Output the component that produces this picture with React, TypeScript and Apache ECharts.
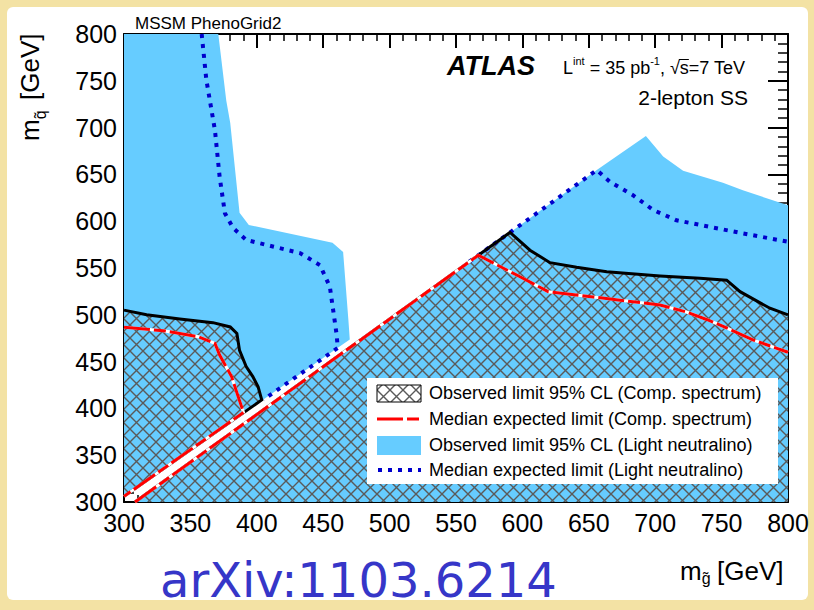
import React, { useEffect, useRef } from "react";
import * as echarts from "echarts";

// ---------- data (GeV) ----------
const X_RANGE = [300, 800];
const Y_RANGE = [300, 800];
const TICK_STEP = 50;

// Observed limit 95% CL (Light neutralino) – filled regions
const lightObsLeft: [number, number][] = [
  [300, 800], [371, 800], [377, 729], [380, 705], [387, 609], [394, 596],
  [457, 577], [465, 567], [469, 494], [470, 473.5], [300, 306],
];
const lightObsRight: [number, number][] = [
  [308.3, 300], [656, 654.6], [693, 691], [706, 669], [721, 654], [751, 641],
  [766, 633], [800, 617], [800, 300],
];
// Observed limit 95% CL (Comp. spectrum) – contour (hatched below)
const compObsLeft: [number, number][] = [
  [300, 505], [317, 500], [342, 495.5], [367, 491.6], [380, 487], [385, 480],
  [387, 462], [392, 444.6], [397, 434], [401, 423], [403.7, 409], [300, 306],
];
const compObsRight: [number, number][] = [
  [308.3, 300], [590.7, 588], [605.7, 569], [620.8, 555.7], [640.8, 550.7],
  [663.5, 546], [703.6, 541.5], [733.7, 539], [753.8, 537], [763.9, 524.7],
  [786.4, 507], [800, 500],
];
// Median expected limit (Comp. spectrum)
const compExpLeft: [number, number][] = [
  [300, 486.6], [329.6, 483], [356, 476.6], [368.5, 469.5], [372, 457],
  [381, 434], [386, 412.5], [390, 395.7], [300, 306],
];
const compExpRight: [number, number][] = [
  [308.3, 300], [566.8, 563.6], [595.7, 542.5], [619.5, 524.7], [653.4, 519],
  [703.6, 510.5], [723.6, 503], [738.7, 495], [749, 489], [774, 473], [800, 460],
];
// Median expected limit (Light neutralino)
const lightExpLeft: [number, number][] = [
  [358.5, 800], [362, 751], [368.5, 697], [372, 647.5], [376, 608.5], [382, 593],
  [392, 580], [412, 573], [432.5, 566], [447.6, 553], [455, 530], [458, 500],
  [460, 480], [461, 464.6], [405, 409.4],
];
const lightExpRight: [number, number][] = [
  [560, 556.7], [656, 654.6], [666, 642], [683, 628], [698.5, 612], [716, 601],
  [741, 594], [766, 587], [800, 578],
];

const legendLabels = [
  "Observed limit 95% CL (Comp. spectrum)",
  "Median expected limit (Comp. spectrum)",
  "Observed limit 95% CL (Light neutralino)",
  "Median expected limit (Light neutralino)",
];

// ---------- styles ----------
const FONT = "'Liberation Sans', Arial, Helvetica, sans-serif";
const BLUE = "#66ccff";
const RED = "#ff0000";
const DOT_BLUE = "#0000cc";
const RED_DASH = [26, 4, 12, 4];
const DOT_DASH = [4, 6];
const HATCH = 13;

const hatchSvg =
  `<svg xmlns='http://www.w3.org/2000/svg' width='${HATCH}' height='${HATCH}'>` +
  `<path d='M0 0L${HATCH} ${HATCH}M${HATCH} 0L0 ${HATCH}' stroke='#5a5a5a' stroke-width='1.4' fill='none'/></svg>`;
const hatchFill: any = {
  image: "data:image/svg+xml;charset=utf-8," + encodeURIComponent(hatchSvg),
  repeat: "repeat",
  imageWidth: HATCH,
  imageHeight: HATCH,
};

function measure(text: string, size: number, weight = "normal", style = "normal", family = FONT) {
  const ctx = document.createElement("canvas").getContext("2d")!;
  ctx.font = `${style} ${weight} ${size}px ${family}`;
  return ctx.measureText(text).width;
}

function polySeries(name: string, pts: [number, number][], fill: any, z: number) {
  return {
    type: "custom",
    name,
    coordinateSystem: "cartesian2d",
    xAxisIndex: 0,
    yAxisIndex: 0,
    data: [[pts[0][0], pts[0][1]]],
    z,
    silent: true,
    clip: true,
    renderItem: (_p: any, api: any) => ({
      type: "polygon",
      shape: { points: pts.map((p) => api.coord(p)) },
      style: { fill, stroke: "none" },
    }),
  };
}

function lineSeries(name: string, pts: [number, number][], color: string, width: number, type: any, z: number) {
  return {
    type: "line",
    name,
    data: pts,
    showSymbol: false,
    symbol: "none",
    z,
    silent: true,
    clip: true,
    lineStyle: { color, width, type, cap: "butt", join: "miter" },
  };
}

function txt(text: string, x: number, y: number, size: number, extra: any = {}) {
  return {
    type: "text",
    x,
    y,
    z: 100,
    style: {
      text,
      fontSize: size,
      fontFamily: FONT,
      fill: "#000",
      align: "left",
      verticalAlign: "middle",
      ...extra,
    },
  };
}

function buildGraphics() {
  const g: any[] = [];
  // Header texts
  g.push(txt("MSSM PhenoGrid2", 135, 23, 17));
  g.push(txt("ATLAS", 447, 66, 27, { fontWeight: "bold", fontStyle: "italic" }));
  // Luminosity label with superscripts
  let lx = 563;
  const put = (t: string, size: number, y: number) => {
    g.push(txt(t, lx, y, size));
    const w = measure(t, size);
    lx += w;
    return w;
  };
  put("L", 18, 68);
  put("int", 11, 61);
  put(" = 35 pb", 18, 68);
  put("-1", 11, 61);
  put(", ", 18, 68);
  put("\u221A", 18, 68);
  const sx = lx;
  const sw = put("s", 18, 68);
  put("=7 TeV", 18, 68);
  g.push({
    type: "line",
    z: 100,
    shape: { x1: sx - 1, y1: 59.5, x2: sx + sw, y2: 59.5 },
    style: { stroke: "#000", lineWidth: 1 },
  });
  g.push(txt("2-lepton SS", 748, 97, 21, { align: "right" }));

  // X axis title
  const mw = measure("m", 26);
  g.push(txt("m", 680, 571, 26));
  g.push(txt("g\u0303", 680 + mw, 578, 16));
  g.push(txt("[GeV]", 717, 571, 26));

  // Y axis title (rotated)
  g.push({
    type: "group",
    x: 39,
    y: 141,
    rotation: Math.PI / 2,
    z: 100,
    children: [
      txt("m", 0, -9, 26),
      txt("q\u0303", mw, 1, 16),
      txt("[GeV]", 41, -9, 26),
    ],
  });

  // arXiv label
  g.push(
    txt("arXiv:1103.6214", 160, 580, 48, {
      fontFamily: "'DejaVu Sans', sans-serif",
      fill: "#3636c8",
    })
  );

  // Legend
  const lx0 = 367, ly0 = 378;
  g.push({ type: "rect", z: 100, shape: { x: lx0, y: ly0, width: 411, height: 106 }, style: { fill: "#fff" } });
  const rows = [393, 419, 444.5, 470];
  g.push({ type: "rect", z: 101, shape: { x: 377, y: 385, width: 44, height: 17 }, style: { fill: "#fff", stroke: "none" } });
  g.push({ type: "rect", z: 102, shape: { x: 377, y: 385, width: 44, height: 17 }, style: { fill: hatchFill, stroke: "#000", lineWidth: 1 } });
  g.push({ type: "line", z: 101, shape: { x1: 377, y1: rows[1], x2: 421, y2: rows[1] }, style: { stroke: RED, lineWidth: 3, lineDash: RED_DASH } });
  g.push({ type: "rect", z: 101, shape: { x: 377, y: 436, width: 44, height: 19 }, style: { fill: BLUE } });
  g.push({ type: "line", z: 101, shape: { x1: 378, y1: rows[3], x2: 421, y2: rows[3] }, style: { stroke: DOT_BLUE, lineWidth: 4, lineDash: DOT_DASH } });
  legendLabels.forEach((l, i) => g.push(txt(l, 429, rows[i], 18, { z: 103 })));
  return g;
}

export default function App() {
  const ref = useRef<HTMLDivElement>(null);
  useEffect(() => {
    if (!ref.current) return;
    const chart = echarts.init(ref.current, undefined, { renderer: "svg" });

    const axisCommon = {
      type: "value",
      min: X_RANGE[0],
      max: X_RANGE[1],
      interval: TICK_STEP,
      splitLine: { show: false },
      axisLine: { show: true, lineStyle: { color: "#000", width: 2 } },
    };
    const xTick = { show: true, inside: true, length: 14, lineStyle: { color: "#000", width: 2 } };
    const xMinor = { show: true, splitNumber: 5, length: 7, lineStyle: { color: "#000", width: 1.5 } };
    const yTick = { show: true, inside: true, length: 20, lineStyle: { color: "#000", width: 2 } };
    const yMinor = { show: true, splitNumber: 5, length: 10, lineStyle: { color: "#000", width: 1.5 } };
    const label = { color: "#000", fontSize: 25, fontFamily: FONT };

    const option: any = {
      animation: false,
      backgroundColor: "transparent",
      grid: { left: 124, right: 26, top: 34, bottom: 108, containLabel: false },
      xAxis: [
        { ...axisCommon, position: "bottom", axisTick: xTick, minorTick: xMinor, axisLabel: { ...label, margin: 8 } },
        { ...axisCommon, position: "top", axisTick: xTick, minorTick: xMinor, axisLabel: { show: false } },
      ],
      yAxis: [
        { ...axisCommon, min: Y_RANGE[0], max: Y_RANGE[1], position: "left", axisTick: yTick, minorTick: yMinor, axisLabel: { ...label, margin: 7 } },
        { ...axisCommon, min: Y_RANGE[0], max: Y_RANGE[1], position: "right", axisTick: yTick, minorTick: yMinor, axisLabel: { show: false } },
      ],
      series: [
        polySeries("Observed limit 95% CL (Light neutralino)", lightObsLeft, BLUE, 1),
        polySeries("Observed limit 95% CL (Light neutralino) ", lightObsRight, BLUE, 1),
        polySeries("Observed limit 95% CL (Comp. spectrum)", compObsLeft, hatchFill, 2),
        polySeries("Observed limit 95% CL (Comp. spectrum) ", [...compObsRight, [800, 300]], hatchFill, 2),
        lineSeries("Median expected limit (Light neutralino)", lightExpLeft, DOT_BLUE, 4, DOT_DASH, 3),
        lineSeries("Median expected limit (Light neutralino) ", lightExpRight, DOT_BLUE, 4, DOT_DASH, 3),
        lineSeries("obs left", compObsLeft, "#000", 3, "solid", 4),
        lineSeries("obs right", compObsRight, "#000", 3, "solid", 4),
        lineSeries("exp left bg", compExpLeft, "#fff", 3, "solid", 5),
        lineSeries("exp right bg", compExpRight, "#fff", 3, "solid", 5),
        lineSeries("Median expected limit (Comp. spectrum)", compExpLeft, RED, 3, RED_DASH, 6),
        lineSeries("Median expected limit (Comp. spectrum) ", compExpRight, RED, 3, RED_DASH, 6),
      ],
      graphic: buildGraphics(),
    };
    chart.setOption(option);
    return () => chart.dispose();
  }, []);

  return (
    <div style={{ position: "fixed", left: 0, top: 0, width: 814, height: 610, background: "#f3e2a4" }}>
      <div style={{ position: "absolute", left: 7, top: 7, width: 801, height: 593, background: "#fff", borderRadius: 6 }} />
      <div ref={ref} style={{ position: "absolute", left: 0, top: 0, width: 814, height: 610 }} />
    </div>
  );
}
